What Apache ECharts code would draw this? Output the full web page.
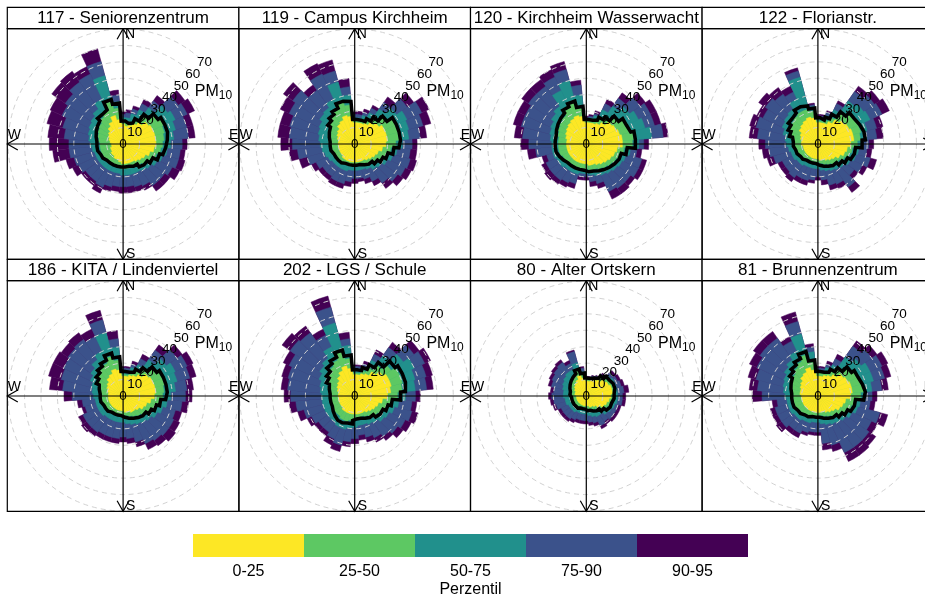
<!DOCTYPE html>
<html>
<head>
<meta charset="utf-8">
<script src="https://cdn.jsdelivr.net/npm/echarts@6/dist/echarts.min.js"></script>
<style>
html, body { margin: 0; padding: 0; background: #ffffff; }
#chart { width: 925px; height: 598px; }
</style>
</head>
<body>
<div id="chart"></div>
<script>
// Wind direction sectors (degrees, centre of each 10° bin)
const directions = [0,10,20,30,40,50,60,70,80,90,100,110,120,130,140,150,160,170,180,190,200,210,220,230,240,250,260,270,280,290,300,310,320,330,340,350];
// Concentration rings (PM10, µg/m³)
const radiusTicks = [0,10,20,30,40,50,60,70];
// Percentile bands and their colours (viridis, reversed)
const percentileBands = ['0-25','25-50','50-75','75-90','90-95'];
const bandColours = ['#FDE725','#5DC863','#21908C','#3B528B','#440154'];

// 117 - Seniorenzentrum
const st117_p25  = [12,11,12,14,16,19,20,20,20,20,19,17,15,14,13,12,12,12,12,11,10,10,9,9,8,8,7,7,8,9,10,11,13,15,18,15];
const st117_p50  = [13,13,14,17,21,25,27,26,25,24,23,21,19,17,16,15,15,15,15,14,14,14,14,14,14,14,14,14,15,16,17,18,20,22,27,22];
const st117_p75  = [16,16,19,23,27,33,35,33,31,29,27,25,23,21,20,19,19,19,19,18,18,18,18,18,18,18,19,20,21,22,23,24,26,30,43,26];
const st117_p90  = [18,19,22,27,32,41,43,40,40,36,35,35,33,31,31,28,27,26,26,26,27,29,28,28,30,31,33,33,36,38,41,43,46,47,52,30];
const st117_p95  = [20,21,24,30,36,46,48,44,44,39,38,39,38,35,35,31,30,30,30,29,30,33,31,31,34,36,43,45,46,48,49,53,54,52,60,33];
const st117_mean = [14,13,14,17,22,26,28,28,27,26,25,23,20,18,17,15,14,14,14,14,14,14,14,15,15,16,16,16,17,18,19,20,22,23,28,25];

// 119 - Campus Kirchheim
const st119_p25  = [13,13,13,14,16,18,20,20,20,19,17,15,14,13,12,11,11,11,11,11,11,11,11,10,10,10,10,10,10,11,12,13,15,16,18,17];
const st119_p50  = [14,14,15,17,20,24,27,27,27,25,22,20,18,16,15,14,13,13,13,13,13,14,14,14,14,15,15,15,16,17,18,20,21,23,26,24];
const st119_p75  = [16,16,18,21,26,31,35,34,33,29,26,24,22,20,19,17,16,16,16,16,17,17,17,17,18,19,20,21,22,23,24,26,27,30,39,30];
const st119_p90  = [18,18,20,24,31,39,45,43,40,35,34,35,34,32,29,25,22,21,21,23,25,25,24,24,26,30,35,38,40,41,44,46,40,47,46,35];
const st119_p95  = [20,20,22,26,35,44,50,48,44,38,38,39,38,36,33,28,25,23,24,26,28,28,27,27,29,35,40,45,47,47,50,53,44,54,53,40];
const st119_mean = [15,15,15,17,20,24,28,28,28,27,24,21,19,17,15,14,13,13,13,13,13,14,14,14,14,15,15,15,16,17,18,20,22,24,27,26];

// 120 - Kirchheim Wasserwacht
const st120_p25  = [13,13,13,14,16,19,20,21,22,22,19,18,17,16,15,14,13,13,12,12,12,12,12,12,12,12,12,12,12,13,14,15,16,17,18,17];
const st120_p50  = [14,14,15,17,20,24,26,27,29,28,23,21,20,19,18,17,16,16,15,15,15,15,15,16,16,17,17,17,17,18,19,20,21,24,26,22];
const st120_p75  = [15,16,18,23,28,32,35,37,40,32,27,25,24,23,22,21,20,19,18,18,19,19,19,20,20,21,21,21,22,23,24,26,28,36,40,30];
const st120_p90  = [16,17,19,27,34,40,43,43,47,35,31,35,35,33,33,32,25,23,20,20,25,26,27,27,27,25,31,35,39,41,41,43,43,45,47,36];
const st120_p95  = [17,18,21,30,38,44,47,47,50,38,34,38,38,36,37,37,28,26,22,22,28,29,30,31,30,28,36,40,44,46,46,48,48,50,52,39];
const st120_mean = [15,15,16,18,20,24,27,28,30,30,25,22,21,20,19,18,17,17,16,16,16,16,16,17,18,19,19,19,19,20,21,22,23,25,27,23];

// 122 - Florianstr.
const st122_p25  = [13,13,13,15,18,20,21,22,22,20,18,17,15,13,12,11,10,10,9,9,9,9,9,9,9,9,9,10,10,11,12,14,15,16,17,16];
const st122_p50  = [14,14,15,18,23,26,27,27,26,24,21,20,18,16,15,14,13,12,11,11,11,11,12,12,13,13,14,14,15,17,19,20,21,22,22,20];
const st122_p75  = [16,16,18,23,32,34,35,31,30,27,25,24,22,20,19,18,17,16,15,15,15,15,16,16,17,17,18,19,20,22,24,25,26,30,42,23];
const st122_p90  = [17,17,20,27,39,42,43,37,36,31,30,33,30,27,32,27,26,22,20,22,23,23,25,24,24,28,30,32,37,39,37,39,37,35,46,24];
const st122_p95  = [18,18,21,29,43,46,48,41,40,34,33,37,33,30,36,30,29,25,22,24,26,26,28,27,27,32,34,36,42,43,41,44,42,39,48,25];
const st122_mean = [16,15,17,20,24,27,28,29,29,27,23,22,20,18,16,15,14,13,12,12,12,12,13,13,14,14,15,15,16,18,20,22,23,25,24,22];

// 186 - KITA / Lindenviertel
const st186_p25  = [12,12,13,14,16,19,20,20,20,19,17,15,14,12,11,11,10,10,9,9,9,9,9,9,9,9,9,9,9,10,11,12,14,15,17,16];
const st186_p50  = [13,13,15,17,20,24,26,26,25,24,22,20,18,16,15,14,13,12,12,12,12,12,12,13,13,13,13,13,14,15,17,19,21,22,25,22];
const st186_p75  = [15,15,18,21,27,32,35,34,32,29,27,25,23,21,20,19,18,17,16,16,16,16,16,17,17,17,17,18,19,20,22,24,27,30,40,30];
const st186_p90  = [17,17,20,25,34,40,43,42,39,38,36,33,34,34,33,32,29,26,25,26,26,26,27,27,27,24,25,31,37,39,40,41,42,40,48,35];
const st186_p95  = [18,18,22,28,38,44,47,46,43,42,40,37,38,39,37,36,32,29,28,29,29,29,30,31,30,26,28,36,45,47,47,46,47,45,54,40];
const st186_mean = [15,15,16,18,21,25,27,27,27,26,23,21,19,17,16,15,14,13,12,12,12,12,13,13,13,14,14,14,15,16,18,20,22,24,27,24];

// 202 - LGS / Schule
const st202_p25  = [13,13,14,15,18,21,23,23,22,20,17,15,14,13,12,11,11,11,11,11,11,11,11,10,10,10,10,10,10,11,12,13,15,17,19,17];
const st202_p50  = [14,14,16,19,23,27,30,30,29,26,22,20,18,17,15,14,13,13,14,15,16,16,15,15,15,15,15,15,16,17,18,20,22,24,28,23];
const st202_p75  = [16,16,18,24,30,36,40,38,37,31,27,25,23,22,20,19,18,18,19,20,21,21,20,20,20,20,20,20,21,22,24,26,28,33,46,31];
const st202_p90  = [18,18,20,28,36,44,47,45,44,37,35,36,34,32,30,28,26,24,26,28,31,29,27,27,29,32,36,39,41,42,44,48,47,41,56,35];
const st202_p95  = [19,19,22,31,40,48,51,49,48,40,38,40,38,36,33,31,29,27,29,31,35,33,30,30,32,36,40,43,45,46,48,54,52,45,63,39];
const st202_mean = [16,16,18,21,25,30,32,32,31,28,23,21,19,18,16,15,14,14,15,17,18,18,17,16,15,15,15,15,16,17,19,21,24,26,29,25];

// 80 - Alter Ortskern
const st80_p25  = [9,9,10,11,12,14,15,16,16,15,14,13,12,10,8,7,7,6,6,6,6,6,6,6,6,6,6,6,7,7,8,9,10,11,13,11];
const st80_p50  = [10,10,11,12,14,16,17,17,17,16,16,15,14,12,10,9,8,8,7,7,7,7,8,8,8,8,8,9,9,10,11,12,13,14,16,13];
const st80_p75  = [11,11,12,13,15,18,19,19,19,19,19,18,17,16,14,14,13,12,11,11,11,11,12,12,12,13,13,14,14,15,16,17,18,18,21,15];
const st80_p90  = [11.5,11.5,12.5,13.5,16,20,21,22,23,22,22,20,20,20,19,20,17,16,15,15,15,16,17,17,17,19,20,21,20,22,23,24,25,22,28,17];
const st80_p95  = [12,12,13,14,17,22,23,24,26,24,24,22,22,22,21,22,19,18,17,17,17,18,19,19,19,21,22,23,22,24,25,26,27,24,29,18];
const st80_mean = [11,11,12,13,15,17,18,18,17,17,16,16,15,13,11,10,9,9,8,8,8,8,9,9,9,9,9,10,10,11,12,13,14,15,17,14];

// 81 - Brunnenzentrum
const st81_p25  = [12,12,13,14,16,19,20,21,21,20,17,16,15,13,12,11,10,10,10,10,10,10,10,10,10,10,10,10,11,11,12,13,15,16,18,16];
const st81_p50  = [14,14,15,17,20,24,26,27,28,26,22,21,19,17,15,14,13,12,12,12,13,13,14,14,15,15,15,15,16,17,18,19,21,23,26,21];
const st81_p75  = [15,15,18,21,29,32,35,35,33,29,26,25,23,21,20,19,18,17,16,16,17,17,18,18,19,19,19,20,21,22,23,25,27,30,39,27];
const st81_p90  = [17,17,20,25,37,40,43,42,39,33,32,39,36,38,38,38,31,29,22,22,23,25,25,27,27,27,25,34,37,39,41,43,43,37,47,30];
const st81_p95  = [18,18,22,28,41,44,47,46,43,36,35,44,40,43,44,44,35,33,24,24,25,28,28,31,30,30,28,40,42,44,46,48,48,40,53,32];
const st81_mean = [15,15,16,18,21,25,27,28,29,28,23,22,20,18,16,15,14,13,13,13,14,14,15,15,16,16,16,16,17,18,19,21,23,25,28,22];

// Panel order: left to right, top to bottom
const stations = [
  { name: '117 - Seniorenzentrum',      bands: [st117_p25, st117_p50, st117_p75, st117_p90, st117_p95], mean: st117_mean },
  { name: '119 - Campus Kirchheim',     bands: [st119_p25, st119_p50, st119_p75, st119_p90, st119_p95], mean: st119_mean },
  { name: '120 - Kirchheim Wasserwacht',bands: [st120_p25, st120_p50, st120_p75, st120_p90, st120_p95], mean: st120_mean },
  { name: '122 - Florianstr.',          bands: [st122_p25, st122_p50, st122_p75, st122_p90, st122_p95], mean: st122_mean },
  { name: '186 - KITA / Lindenviertel', bands: [st186_p25, st186_p50, st186_p75, st186_p90, st186_p95], mean: st186_mean },
  { name: '202 - LGS / Schule',         bands: [st202_p25, st202_p50, st202_p75, st202_p90, st202_p95], mean: st202_mean },
  { name: '80 - Alter Ortskern',        bands: [st80_p25,  st80_p50,  st80_p75,  st80_p90,  st80_p95],  mean: st80_mean },
  { name: '81 - Brunnenzentrum',        bands: [st81_p25,  st81_p50,  st81_p75,  st81_p90,  st81_p95],  mean: st81_mean }
];

// ---- layout of the 4 x 2 panel grid ----
const FONT = "'Liberation Sans', Arial, Helvetica, sans-serif";
const colX = [7.3, 238.9, 470.5, 702.1];
const rowY = [7.3, 259.3];
const panelW = 231.6;
const stripH = 21.4;
const bodyH = 230.6;
const rMax = radiusTicks[radiusTicks.length - 1];
const rStep = radiusTicks[1] - radiusTicks[0];
const rPix = 115;         // pixel radius of the outer ring
const arrowLen = 10.5, arrowHalf = 6;

const polar = [], angleAxis = [], radiusAxis = [], series = [], elements = [];

const hidden = {
  axisLine: { show: false }, axisTick: { show: false },
  axisLabel: { show: false }, splitLine: { show: false }
};

// stepped outline of the mean: constant radius across each 10° sector
function meanOutline(mean) {
  const pts = [[mean[0], 0], [mean[0], 5]];
  for (let i = 1; i < directions.length; i++) {
    pts.push([mean[i], directions[i] - 5]);
    pts.push([mean[i], directions[i] + 5]);
  }
  pts.push([mean[0], 355]);
  pts.push([mean[0], 360]);
  return pts;
}

stations.forEach((st, k) => {
  const col = k % 4, row = Math.floor(k / 4);
  const x0 = colX[col], y0 = rowY[row];
  const bodyTop = y0 + stripH, bodyBottom = bodyTop + bodyH;
  const cx = x0 + panelW / 2, cy = bodyTop + bodyH / 2;
  const pBars = 3 * k, pLine = 3 * k + 1, pLab = 3 * k + 2;

  // polar for the percentile wedges (category angle axis, 10° bins centred on N)
  polar.push({ center: [cx, cy], radius: [0, rPix] });
  angleAxis.push(Object.assign({ polarIndex: pBars, type: 'category', data: directions,
    startAngle: 95, clockwise: true, boundaryGap: true }, hidden));
  radiusAxis.push(Object.assign({ polarIndex: pBars, type: 'value', min: 0, max: rMax }, hidden));

  // polar for the mean outline and the dashed rings
  polar.push({ center: [cx, cy], radius: [0, rPix] });
  angleAxis.push(Object.assign({ polarIndex: pLine, type: 'value', min: 0, max: 360,
    startAngle: 90, clockwise: true }, hidden));
  radiusAxis.push({
    polarIndex: pLine, type: 'value', min: 0, max: rMax, interval: rStep, z: 3,
    axisLine: { show: false }, axisTick: { show: false }, axisLabel: { show: false },
    splitLine: { show: true, lineStyle: { color: '#d2d2d2', width: 1, type: [5, 4] } }
  });

  // polar whose radius axis runs along the NE diagonal: ring labels
  // (one step longer than the outer ring so every ring value gets its label)
  polar.push({ center: [cx, cy], radius: [0, rPix * (rMax + rStep) / rMax] });
  angleAxis.push(Object.assign({ polarIndex: pLab, type: 'value', min: 0, max: 360,
    startAngle: 45, clockwise: true }, hidden));
  radiusAxis.push({
    polarIndex: pLab, type: 'value', min: 0, max: rMax + rStep, interval: rStep, z: 5,
    axisLine: { show: false }, axisTick: { show: false }, splitLine: { show: false },
    axisLabel: { show: true, margin: 0, rotate: 0, align: 'center', verticalAlign: 'middle',
      showMinLabel: true, showMaxLabel: false, hideOverlap: false,
      formatter: v => (radiusTicks.indexOf(v) >= 0 ? String(v) : ''),
      color: '#000', fontSize: 13.5, fontFamily: FONT }
  });

  // wedges: widest band first so the narrower ones sit on top
  for (let j = st.bands.length - 1; j >= 0; j--) {
    series.push({
      type: 'bar', coordinateSystem: 'polar', polarIndex: pBars,
      name: percentileBands[j], data: st.bands[j],
      barGap: '-100%', barCategoryGap: '0%', z: 2, silent: true,
      itemStyle: { color: bandColours[j], borderColor: bandColours[j], borderWidth: 0.5 }
    });
  }

  // mean concentration outline
  series.push({
    type: 'line', coordinateSystem: 'polar', polarIndex: pLine, z: 6, silent: true,
    data: meanOutline(st.mean), symbol: 'none', smooth: false,
    lineStyle: { color: '#000', width: 3.5, join: 'miter' }
  });

  // pollutant label, up and to the right of the ring labels
  elements.push({ type: 'text', z: 5, silent: true, x: cx + 90.4, y: cy - 52,
    style: {
      text: '{a|PM}{b|10}', fill: '#000', textAlign: 'center',
      textVerticalAlign: 'middle', verticalAlign: 'middle',
      rich: {
        a: { fontSize: 16, fontFamily: FONT, fill: '#000' },
        b: { fontSize: 12, fontFamily: FONT, fill: '#000', padding: [7, 0, 0, 0] }
      }
    } });

  // panel frame and strip
  elements.push({ type: 'rect', z: 8, silent: true,
    shape: { x: x0, y: y0, width: panelW, height: stripH },
    style: { fill: '#ffffff', stroke: '#000', lineWidth: 1.2 } });
  elements.push({ type: 'rect', z: 8, silent: true,
    shape: { x: x0, y: bodyTop, width: panelW, height: bodyH },
    style: { fill: null, stroke: '#000', lineWidth: 1.2 } });
  elements.push({ type: 'text', z: 9, silent: true, x: cx, y: y0 + stripH / 2 + 0.5,
    style: { text: st.name, fill: '#000', fontSize: 17, fontFamily: FONT,
      textAlign: 'center', textVerticalAlign: 'middle', verticalAlign: 'middle' } });

  // compass cross with open arrow heads
  const lineStyle = { stroke: '#000', lineWidth: 1.2, fill: null };
  elements.push({ type: 'line', z: 4, silent: true,
    shape: { x1: x0, y1: cy, x2: x0 + panelW, y2: cy }, style: lineStyle });
  elements.push({ type: 'line', z: 4, silent: true,
    shape: { x1: cx, y1: bodyTop, x2: cx, y2: bodyBottom }, style: lineStyle });
  const heads = [
    [[cx - arrowHalf, bodyTop + arrowLen], [cx, bodyTop], [cx + arrowHalf, bodyTop + arrowLen]],
    [[cx - arrowHalf, bodyBottom - arrowLen], [cx, bodyBottom], [cx + arrowHalf, bodyBottom - arrowLen]],
    [[x0 + arrowLen, cy - arrowHalf], [x0, cy], [x0 + arrowLen, cy + arrowHalf]],
    [[x0 + panelW - arrowLen, cy - arrowHalf], [x0 + panelW, cy], [x0 + panelW - arrowLen, cy + arrowHalf]]
  ];
  heads.forEach(pts => elements.push({ type: 'polyline', z: 4, silent: true,
    shape: { points: pts }, style: lineStyle }));

  const compass = [
    { t: 'N', x: cx + 2, y: bodyTop + 5.5, a: 'left' },
    { t: 'S', x: cx + 3, y: bodyBottom - 5.5, a: 'left' },
    { t: 'W', x: x0 + 0.5, y: cy - 9, a: 'left' },
    { t: 'E', x: x0 + panelW - 0.5, y: cy - 9, a: 'right' }
  ];
  compass.forEach(c => elements.push({ type: 'text', z: 5, silent: true, x: c.x, y: c.y,
    style: { text: c.t, fill: '#000', fontSize: 14, fontFamily: FONT,
      textAlign: c.a, textVerticalAlign: 'middle', verticalAlign: 'middle' } }));
});

// colour key
series.push({
  type: 'bar', xAxisIndex: 0, yAxisIndex: 0, silent: true, barCategoryGap: '0%',
  data: percentileBands.map((b, i) => ({ value: 1, itemStyle: { color: bandColours[i] } }))
});

const chart = echarts.init(document.getElementById('chart'), null, { renderer: 'canvas' });
chart.setOption({
  animation: false,
  backgroundColor: '#ffffff',
  textStyle: { fontFamily: FONT },
  polar: polar,
  angleAxis: angleAxis,
  radiusAxis: radiusAxis,
  grid: { left: 193, top: 534, width: 555, height: 23, outerBoundsMode: 'none', containLabel: false },
  xAxis: {
    type: 'category', data: percentileBands,
    axisLine: { show: false }, axisTick: { show: false },
    axisLabel: { color: '#000', fontSize: 16, margin: 7, fontFamily: FONT },
    name: 'Perzentil', nameLocation: 'middle', nameGap: 25,
    nameTextStyle: { color: '#000', fontSize: 16, fontFamily: FONT }
  },
  yAxis: { type: 'value', min: 0, max: 1, show: false },
  graphic: { elements: elements },
  series: series
});
</script>
</body>
</html>
